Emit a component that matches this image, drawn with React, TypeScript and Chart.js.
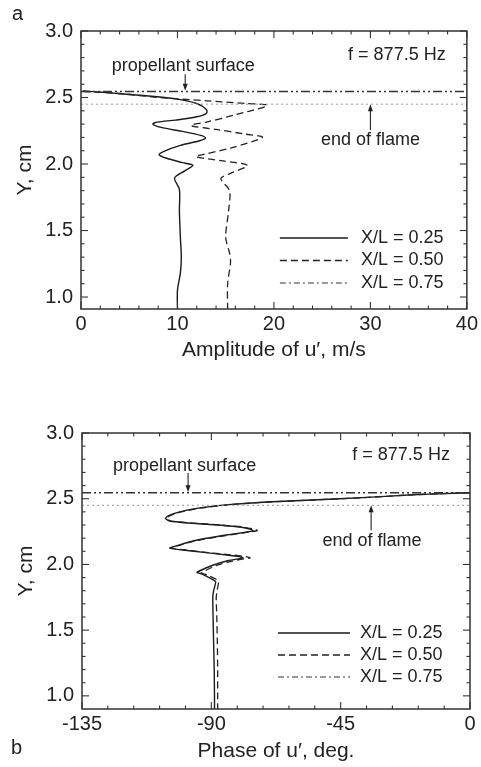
import React, { useEffect, useRef } from "react";
import { Chart, registerables } from "chart.js";
Chart.register(...registerables);

const FONT = "'Liberation Sans', Arial, Helvetica, sans-serif";
const INK = "#222";

const seriesNames = ["X/L = 0.25", "X/L = 0.50", "X/L = 0.75"];

// ---------- Panel a: amplitude of u' (m/s) vs Y (cm) ----------
const ampX25 = [0.2, 3, 6.5, 9.8, 12.0, 13.0, 13.0, 12.0, 9.8, 7.9, 7.45, 8.3, 10.5, 12.4, 12.9, 12.3, 10.3, 8.6, 8.1, 8.8, 10.5, 11.6, 10.8, 9.7, 10.2, 10.2, 10.3, 10.4, 10.3, 10.0, 10.0];
const ampY25 = [2.55, 2.535, 2.515, 2.49, 2.455, 2.41, 2.38, 2.355, 2.33, 2.315, 2.3, 2.275, 2.245, 2.215, 2.195, 2.175, 2.14, 2.095, 2.07, 2.045, 2.01, 1.99, 1.95, 1.895, 1.81, 1.65, 1.45, 1.3, 1.18, 1.05, 0.91];
const ampX50 = [0.3, 4, 8.1, 13, 17, 19.3, 16, 13, 11.4, 14, 17, 18.8, 15.5, 12.6, 11.9, 14.5, 17.25, 15.5, 14.5, 15.4, 15.3, 15.0, 15.4, 15.5, 15.2, 15.2];
const ampY50 = [2.545, 2.53, 2.5, 2.475, 2.455, 2.44, 2.37, 2.315, 2.29, 2.26, 2.225, 2.2, 2.12, 2.07, 2.055, 2.025, 1.99, 1.93, 1.89, 1.8, 1.65, 1.45, 1.33, 1.26, 1.1, 0.91];

// ---------- Panel b: phase of u' (deg) vs Y (cm) ----------
const phX25 = [0, -8, -20, -35.8, -55, -70.7, -84, -94, -101, -105, -106, -104.5, -98, -88, -80, -76, -75.5, -78, -86, -96, -104.5, -100, -92, -84, -80, -79, -84, -90, -95, -93, -88.5, -89.2, -89.5, -89.4, -89.2, -89.0, -88.9, -88.9];
const phY25 = [2.545, 2.54, 2.53, 2.51, 2.49, 2.475, 2.455, 2.43, 2.4, 2.37, 2.35, 2.33, 2.315, 2.3, 2.285, 2.265, 2.255, 2.245, 2.22, 2.18, 2.125, 2.11, 2.09, 2.07, 2.06, 2.05, 2.03, 1.99, 1.94, 1.925, 1.87, 1.8, 1.75, 1.6, 1.4, 1.2, 1.0, 0.9];
const phX50 = [0, -8, -20, -35.5, -54.5, -70, -83.5, -93.5, -100.5, -104.5, -105.5, -104, -97, -87, -79, -74.5, -74, -76.5, -85, -95.5, -104, -99, -91, -82, -77.5, -76.5, -82, -88.5, -93.5, -91.5, -87.5, -88, -88.3, -88.1, -87.9, -87.8, -87.8, -87.8];
const phY50 = [2.545, 2.54, 2.53, 2.51, 2.49, 2.475, 2.455, 2.43, 2.4, 2.37, 2.35, 2.33, 2.315, 2.3, 2.285, 2.265, 2.258, 2.248, 2.22, 2.18, 2.125, 2.11, 2.09, 2.07, 2.058, 2.05, 2.03, 1.99, 1.935, 1.92, 1.875, 1.8, 1.75, 1.6, 1.4, 1.2, 1.0, 0.9];

// reference levels (cm)
const propellantSurfaceY = 2.545;
const endOfFlameY = 2.45;

// axes
const yTicks = [1.0, 1.5, 2.0, 2.5, 3.0];
const ampTicks = [0, 10, 20, 30, 40];
const phaseTicks = [-135, -90, -45, 0];

const pts = (xs: number[], ys: number[]) => xs.map((x, i) => ({ x, y: ys[i] }));

const STYLE = {
  solid: { dash: [] as number[], width: 1.4, color: "#1a1a1a" },
  dashed: { dash: [7, 4], width: 1.3, color: "#222" },
  dashdot: { dash: [6, 3, 2, 3], width: 1.2, color: "#333" },
  surface: { dash: [9, 3, 2, 3, 2, 3], width: 1.5, color: "#333" },
  flame: { dash: [2, 3], width: 1, color: "#999" },
};
const legendStyles = [STYLE.solid, STYLE.dashed, STYLE.dashdot];

const decorPlugin = {
  id: "decor",
  afterDatasetsDraw(chart: any, _a: any, o: any) {
    const { ctx, chartArea: ca } = chart;
    const xs = chart.scales.x, ys = chart.scales.y;
    ctx.save();
    ctx.setLineDash([]);
    ctx.strokeStyle = "#333";
    ctx.lineWidth = 1.5;
    ctx.strokeRect(ca.left, ca.top, ca.right - ca.left, ca.bottom - ca.top);
    const seg = (x1: number, y1: number, x2: number, y2: number) => {
      ctx.beginPath(); ctx.moveTo(x1, y1); ctx.lineTo(x2, y2); ctx.stroke();
    };
    ctx.lineWidth = 1.1;
    const nx = Math.round((o.xMax - o.xMin) / o.xMinor);
    for (let i = 0; i <= nx; i++) {
      const v = o.xMin + i * o.xMinor;
      const major = o.xMajor.some((m: number) => Math.abs(m - v) < 1e-6);
      const L = major ? 7 : 3.5;
      const px = xs.getPixelForValue(v);
      seg(px, ca.bottom, px, ca.bottom - L);
      seg(px, ca.top, px, ca.top + L);
    }
    for (let i = 10; i <= 30; i++) {
      const v = i / 10;
      const major = i % 5 === 0;
      const L = major ? 7 : 3.5;
      const py = ys.getPixelForValue(v);
      seg(ca.left, py, ca.left + L, py);
      seg(ca.right, py, ca.right - L, py);
    }
    // annotations
    ctx.fillStyle = INK;
    ctx.font = `18px ${FONT}`;
    ctx.textBaseline = "middle";
    for (const a of o.labels) {
      ctx.textAlign = a.align;
      ctx.fillText(a.text, xs.getPixelForValue(a.x), ys.getPixelForValue(a.y));
    }
    ctx.strokeStyle = INK;
    ctx.lineWidth = 1.1;
    for (const ar of o.arrows) {
      const px = xs.getPixelForValue(ar.x);
      const p1 = ys.getPixelForValue(ar.from);
      const p2 = ys.getPixelForValue(ar.to);
      const dir = p2 > p1 ? 1 : -1;
      seg(px, p1, px, p2 - dir * 5);
      ctx.beginPath();
      ctx.moveTo(px, p2);
      ctx.lineTo(px - 2.5, p2 - dir * 7);
      ctx.lineTo(px + 2.5, p2 - dir * 7);
      ctx.closePath();
      ctx.fill();
    }
    // legend
    const lg = o.legend;
    seriesNames.forEach((name, i) => {
      const st = legendStyles[i];
      const y = ca.bottom - lg.rows[i];
      ctx.strokeStyle = st.color;
      ctx.lineWidth = st.width;
      ctx.setLineDash(st.dash);
      seg(ca.right - lg.x0, y, ca.right - lg.x1, y);
      ctx.setLineDash([]);
      ctx.textAlign = "left";
      ctx.fillStyle = INK;
      ctx.fillText(name, ca.right - lg.tx, y);
    });
    // titles
    ctx.font = `21px ${FONT}`;
    ctx.textAlign = "center";
    ctx.fillText(o.xTitle, (ca.left + ca.right) / 2, o.xTitleY);
    ctx.save();
    ctx.translate(o.yTitleX, (ca.top + ca.bottom) / 2);
    ctx.rotate(-Math.PI / 2);
    ctx.fillText("Y, cm", 0, 0);
    ctx.restore();
    ctx.font = `20px ${FONT}`;
    ctx.textAlign = "left";
    ctx.fillText(o.letter, o.letterX, o.letterY);
    ctx.restore();
  },
};

function makeConfig(p: any) {
  const refLine = (y: number, st: any) => ({
    data: [{ x: p.xMin, y }, { x: p.xMax, y }],
    showLine: true, pointRadius: 0, borderColor: st.color, borderWidth: st.width, borderDash: st.dash,
  });
  const series = (data: any[], st: any, tension: number) => ({
    data, showLine: true, pointRadius: 0, borderColor: st.color, borderWidth: st.width, borderDash: st.dash, tension,
  });
  return {
    type: "scatter",
    data: {
      datasets: [
        refLine(endOfFlameY, STYLE.flame),
        refLine(propellantSurfaceY, STYLE.surface),
        series(p.s50, STYLE.dashed, p.tension),
        series(p.s25, STYLE.solid, p.tension),
      ],
    },
    options: {
      responsive: false,
      animation: false,
      devicePixelRatio: 1,
      layout: { padding: { left: 0, top: p.top, right: p.right, bottom: 0 } },
      plugins: { legend: { display: false }, tooltip: { enabled: false }, decor: p.decor },
      scales: {
        x: {
          type: "linear", min: p.xMin, max: p.xMax,
          afterBuildTicks: (s: any) => { s.ticks = p.xTicks.map((v: number) => ({ value: v })); },
          afterFit: (s: any) => { s.height = p.xAxisH; },
          ticks: { font: { family: FONT, size: 20 }, color: INK, padding: 3, maxRotation: 0, autoSkip: false, callback: (v: any) => String(v) },
          grid: { display: false, drawTicks: false },
          border: { display: false },
        },
        y: {
          type: "linear", min: p.yMin, max: 3.0,
          afterBuildTicks: (s: any) => { s.ticks = yTicks.map((v) => ({ value: v })); },
          afterFit: (s: any) => { s.width = p.left; },
          ticks: { font: { family: FONT, size: 20 }, color: INK, padding: 8, autoSkip: false, callback: (v: any) => Number(v).toFixed(1) },
          grid: { display: false, drawTicks: false },
          border: { display: false },
        },
      },
    },
    plugins: [decorPlugin],
  };
}

const panelA = {
  xMin: 0, xMax: 40, yMin: 0.91, xTicks: ampTicks, top: 31, right: 12, left: 81, xAxisH: 74, tension: 0.3,
  s25: pts(ampX25, ampY25), s50: pts(ampX50, ampY50),
  decor: {
    xMin: 0, xMax: 40, xMinor: 2, xMajor: ampTicks,
    labels: [
      { text: "f = 877.5 Hz", x: 37.8, y: 2.82, align: "right" },
      { text: "propellant surface", x: 10.6, y: 2.74, align: "center" },
      { text: "end of flame", x: 30.0, y: 2.18, align: "center" },
    ],
    arrows: [
      { x: 10.8, from: 2.675, to: 2.55 },
      { x: 30.0, from: 2.255, to: 2.45 },
    ],
    legend: { x0: 187, x1: 119, tx: 106, rows: [71, 48.5, 26] },
    xTitle: "Amplitude of u′, m/s", xTitleY: 350, yTitleX: 25,
    letter: "a", letterX: 12, letterY: 14,
  },
};

const panelB = {
  xMin: -135, xMax: 0, yMin: 0.9, xTicks: phaseTicks, top: 50, right: 11, left: 82, xAxisH: 58, tension: 0.12,
  s25: pts(phX25, phY25), s50: pts(phX50, phY50),
  decor: {
    xMin: -135, xMax: 0, xMinor: 9, xMajor: phaseTicks,
    labels: [
      { text: "f = 877.5 Hz", x: -7, y: 2.833, align: "right" },
      { text: "propellant surface", x: -99.3, y: 2.75, align: "center" },
      { text: "end of flame", x: -34.1, y: 2.18, align: "center" },
    ],
    arrows: [
      { x: -98.1, from: 2.696, to: 2.55 },
      { x: -34.4, from: 2.26, to: 2.45 },
    ],
    legend: { x0: 192, x1: 120, tx: 110, rows: [76, 54, 32] },
    xTitle: "Phase of u′, deg.", xTitleY: 368, yTitleX: 26,
    letter: "b", letterX: 11, letterY: 365,
  },
};

function Panel({ cfg, h }: { cfg: any; h: number }) {
  const ref = useRef<HTMLCanvasElement>(null);
  useEffect(() => {
    if (!ref.current) return;
    const chart = new Chart(ref.current, makeConfig(cfg) as any);
    return () => chart.destroy();
  }, [cfg]);
  return <canvas ref={ref} width={481} height={h} style={{ display: "block", width: 481, height: h }} />;
}

export default function App() {
  return (
    <div style={{ position: "absolute", left: 0, top: 0, width: 481, height: 767, background: "#fff" }}>
      <Panel cfg={panelA} h={383} />
      <Panel cfg={panelB} h={384} />
    </div>
  );
}
